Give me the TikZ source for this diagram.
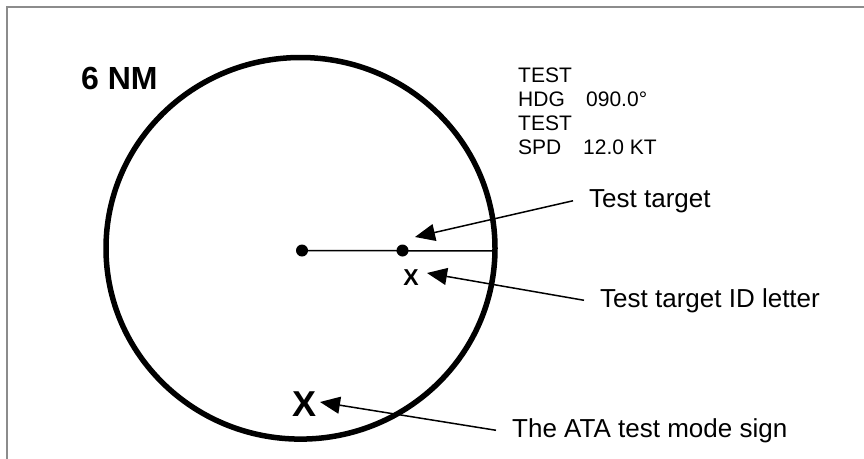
\documentclass[tikz,border=0pt]{standalone}
\usepackage{fontspec}
\setmainfont{Liberation Sans}
\usetikzlibrary{arrows.meta}
\begin{document}
\begin{tikzpicture}[x=1pt,y=-1pt,
  frameline/.style={draw=black!45,line width=1.6pt},
  ring/.style={draw=black,line width=5.5pt},
  thinline/.style={draw=black,line width=1.5pt},
  blip/.style={circle,fill=black,inner sep=0pt,minimum size=12pt},
  info/.style={anchor=base west,inner sep=0pt,font=\fontsize{21}{25}\selectfont},
  callout/.style={anchor=base west,inner xsep=16pt,inner ysep=0pt,font=\fontsize{26}{31}\selectfont},
  bigmark/.style={inner sep=0pt,font=\fontsize{36}{40}\selectfont\bfseries},
  smallmark/.style={inner sep=0pt,font=\fontsize{23}{27}\selectfont\bfseries},
  pointer/.style={draw=black,line width=1.5pt,-{Triangle[length=20pt,width=17pt]}}]
\useasboundingbox (0,0) rectangle (864,458);
% frame
\draw[frameline] (7,470) -- (7,7) -- (875,7);
% range ring
\draw[ring] (300.5,248.3) ellipse [x radius=194.5, y radius=190.8];
\coordinate (ringE) at (495,251);
% own ship and target
\node[blip] (own) at (302,250.5) {};
\node[blip] (tgt) at (402.5,250.5) {};
\draw[thinline] (own.center) -- (ringE);
\node[smallmark] (xid) at (411,277.5) {X};
\node[bigmark] (xata) at (305,404) {X};
% range label
\node[anchor=base west,inner sep=0pt,font=\fontsize{32}{36}\selectfont\bfseries] (rng) at (81,89) {6 NM};
% info block
\node[info] (l1) at (518,82) {TEST};
\node[info] (l2) at (518,106) {HDG};
\node[info] (l2v) at (586,106) {090.0°};
\node[info] (l3) at (518,130) {TEST};
\node[info] (l4) at (518,154) {SPD};
\node[info] (l4v) at (583,154) {12.0 KT};
% callouts
\node[callout] (ctgt) at (573,207) {Test target};
\node[callout] (cid) at (584,307) {Test target ID letter};
\node[callout] (cata) at (496,437) {The ATA test mode sign};
\coordinate (tipT) at (415,237);
\coordinate (tipI) at (427,273);
\coordinate (tipA) at (320,402);
\draw[pointer] (ctgt.west) -- (tipT);
\draw[pointer] (cid.west) -- (tipI);
\draw[pointer] (cata.west) -- (tipA);
\end{tikzpicture}
\end{document}
